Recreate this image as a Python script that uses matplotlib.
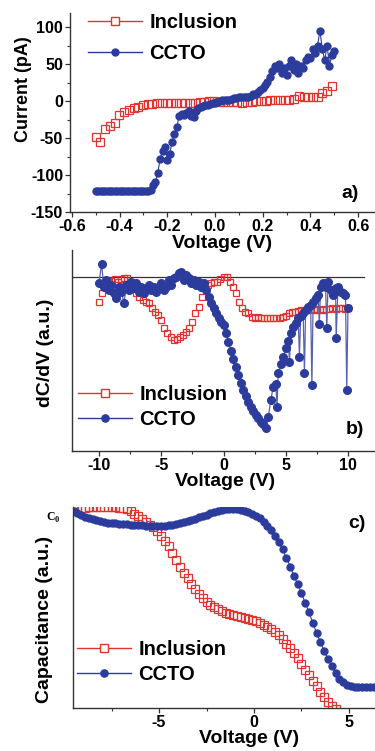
import numpy as np
import matplotlib
matplotlib.use("Agg")
import matplotlib.pyplot as plt
from matplotlib.lines import Line2D
from matplotlib.ticker import MultipleLocator

plt.rcParams["font.family"] = ["Liberation Sans", "DejaVu Sans"]
plt.rcParams["font.weight"] = "bold"
plt.rcParams["axes.unicode_minus"] = False

RED = "#e2342f"
BLUE = "#2c3c9c"
SPIKE = "#5a62ad"

# ---- panel a: I-V ----
inc_iv = [-48, -56, -38, -34, -30, -19, -15, -12, -10, -8,
          -6, -4, -4, -3, -3, -3, -3, -2, -2, -2,
          -2, -2, -1, -1, 0, 0, -1, -1, -1, -1,
          -1, -2, -1, -1, 0, 0, 0, 1, 1, 2,
          2, 2, 3, 7, 5, 5, 5, 6, 11, 14, 20]
ccto_iv = [-122, -122, -122, -122, -122, -122, -122, -122, -122, -122,
           -122, -122, -122, -122, -122, -122, -122, -122, -122, -122,
           -122, -122, -122,
           -120, -113, -110, -97, -78, -68, -62, -80, -72, -55,
           -45, -35, -20, -18, -19, -16, -14, -20, -22, -13,
           -10, -8, -7, -6, -5, -4, -3, -2,
           -1, 0, 1, 1, 2, 2, 3, 4, 4, 5,
           5, 6, 6, 5, 7, 9, 10, 12, 15, 18,
           22, 26, 32, 40, 48, 45, 50, 38, 45, 35,
           48, 55, 42, 50, 38, 48, 45, 55, 60, 58,
           70, 65, 75, 95, 70, 55, 75, 48, 62, 68]
v_inc_iv = np.linspace(-0.5, 0.49, len(inc_iv))
v_ccto_iv = np.linspace(-0.5, 0.5, len(ccto_iv))

# ---- panel b: dC/dV ----
inc_dcdv = [-77, -48, -20, -15, -12, -8, -15, -8, -5, -3,
            -15, -30, -48, -60, -70, -75, -80, -95, -105, -115,
            -130, -155, -170, -182, -190, -188, -182, -175, -165, -155,
            -135, -110, -90, -60, -35, -25, -20, -15, -15, -8,
            0, -2, -15, -30, -50, -75, -95, -105, -110, -120,
            -125, -120, -123, -125, -125, -123, -125, -123, -125, -120,
            -118, -110, -105, -105, -103, -100, -102, -98, -100, -98,
            -100, -98, -100, -96, -98, -95, -96, -95, -95, -96, -95]
ccto_dcdv = [-20, 38, -30, -10, -40, -25, -50, -65, -30, -45,
             -80, -25, -40, -15, -35, -20, -45, -30, -50, -35,
             -25, -40, -30, -45, -35, -20, -40, -30, -10, -25,
             -5, 0, 10, 15, -10, 5, -5, -20, -10, -25,
             -15, -30, -20, -40, -60, -80, -95, -110, -125, -135,
             -145, -170, -195, -222, -247, -270, -295, -320, -340, -358,
             -375, -390, -403, -415, -425, -435, -443, -455, -420, -370,
             -330, -322, -290, -262, -240, -215, -192, -170, -150, -138,
             -125, -117, -108, -100, -92, -85, -75, -65, -55, -30,
             -20, -30, -15, -40, -55, -35, -30, -45, -50, -55, -95]
spike_v = [4.3, 5.3, 6.1, 6.5, 7.1, 7.7, 8.3, 9.05, 9.9]
spike_dcdv = [-390, -255, -240, -290, -325, -142, -155, -184, -340]
v_inc_dcdv = np.linspace(-10, 10, len(inc_dcdv))
v_ccto_dcdv = np.concatenate([np.linspace(-10, 10, len(ccto_dcdv)), spike_v])
ccto_dcdv_all = np.concatenate([ccto_dcdv, spike_dcdv])
order = np.argsort(v_ccto_dcdv, kind="stable")
v_ccto_dcdv, ccto_dcdv_all = v_ccto_dcdv[order], ccto_dcdv_all[order]

# ---- panel c: C-V ----
inc_cv = [599, 600, 601, 602, 603, 603, 604, 604, 604, 604,
          604, 603, 602, 600, 597, 591, 584, 577, 569, 560,
          551, 543, 533, 517, 503, 487, 465, 445, 425, 407,
          390, 373, 357, 343, 330, 320, 311, 303, 296, 291,
          286, 282, 278, 275, 272, 269, 266, 263, 260, 255,
          250, 244, 237, 229, 219, 207, 193, 179, 165, 149,
          132, 115, 98, 81, 65, 49, 33, 19, 7, -3]
ccto_cv = [593, 587, 581, 575, 571, 567, 564, 561, 559, 557,
           556, 555, 554, 553, 552, 551, 550, 549, 549, 548,
           548, 547, 547, 547, 548, 549, 551, 553, 555, 558,
           561, 565, 569, 573, 577, 581, 585, 589, 593, 596,
           598, 599, 599, 598, 596, 593, 589, 584, 578, 570,
           560, 548, 534, 517, 498, 477, 452, 425, 397, 372,
           345, 315, 287, 255, 225, 197, 171, 147, 125, 105,
           88, 77, 70, 66, 64, 63, 63, 62, 62, 62]
v_inc_cv = np.linspace(-9.5, 4.3, len(inc_cv))
v_ccto_cv = np.linspace(-9.5, 6.3, len(ccto_cv))

W, H = 375, 751
fig = plt.figure(figsize=(W / 100, H / 100), dpi=100)


def axes_px(left, top, right, bottom):
    ax = fig.add_axes([left / W, 1 - bottom / H, (right - left) / W, (bottom - top) / H])
    ax.set_facecolor("none")
    return ax


def style(ax):
    for s in ("top", "right"):
        ax.spines[s].set_visible(False)
    for s in ("left", "bottom"):
        ax.spines[s].set_color("#333333")
        ax.spines[s].set_linewidth(1.0)
    ax.tick_params(which="major", direction="out", length=3.5, width=0.9, pad=1.5,
                   labelsize=11.5, colors="#333333", labelcolor="black")
    ax.tick_params(which="minor", direction="out", length=2, width=0.8, colors="#333333")


def legend(ax, anchor, spacing, ms_sq, ms_dot):
    h = [Line2D([], [], color=RED, lw=1, marker="s", ms=ms_sq, mfc="white", mec=RED, mew=1),
         Line2D([], [], color=BLUE, lw=1, marker="o", ms=ms_dot, mfc=BLUE, mec=BLUE)]
    ax.legend(h, ["Inclusion", "CCTO"], loc="upper left", bbox_to_anchor=anchor,
              bbox_transform=fig.transFigure, frameon=False, fontsize=14.5,
              handlelength=2.7, handletextpad=0.35, borderpad=0, borderaxespad=0,
              labelspacing=spacing)


# panel a
ax = axes_px(70, 13, 375, 212)
style(ax)
ax.plot(v_inc_iv, inc_iv, ls="none", marker="s", ms=5.2, mfc="none", mec=RED, mew=0.9)
ax.plot(v_ccto_iv, ccto_iv, color=BLUE, lw=0.8, marker="o", ms=5, mfc=BLUE, mec=BLUE)
ax.set_xlim(-0.608, 0.671)
ax.set_ylim(-150, 119)
ax.xaxis.set_minor_locator(MultipleLocator(0.1))
ax.yaxis.set_major_locator(MultipleLocator(50))
ax.yaxis.set_minor_locator(MultipleLocator(25))
ax.set_xticks([-0.6, -0.4, -0.2, 0.0, 0.2, 0.4, 0.6])
ax.set_xticklabels(["-0.6", "-0.4", "-0.2", "0.0", "0.2", "0.4", "0.6"])
ax.set_xlabel("Voltage (V)", fontsize=14, fontweight="bold")
ax.xaxis.set_label_coords(0.5, -0.16)
ax.xaxis.label.set_va("center")
ax.set_ylabel("Current (pA)", fontsize=13, fontweight="bold")
ax.yaxis.set_label_coords(-0.151, 0.618)
ax.yaxis.label.set_va("center")
legend(ax, (88 / W, 1 - 13 / H), 0.6, 5.2, 5)
fig.text(350 / W, 1 - 193 / H, "a)", fontsize=14, fontweight="bold", ha="center", va="center")

# panel b
ax = axes_px(72, 250, 375, 451)
style(ax)
ax.axhline(0, xmin=0, xmax=0.964, color="#333333", lw=0.9)
ax.plot(v_inc_dcdv, inc_dcdv, ls="none", marker="s", ms=5, mfc="none", mec=RED, mew=0.9)
ax.plot(v_ccto_dcdv, ccto_dcdv_all, color=SPIKE, lw=0.9, marker="o", ms=5.5, mfc=BLUE, mec=BLUE)
ax.set_xlim(-12.17, 12.17)
ax.set_ylim(-523, 80)
ax.set_yticks([])
ax.xaxis.set_major_locator(MultipleLocator(5))
ax.xaxis.set_minor_locator(MultipleLocator(2.5))
ax.set_xlabel("Voltage (V)", fontsize=14, fontweight="bold")
ax.xaxis.set_label_coords(0.505, -0.152)
ax.xaxis.label.set_va("center")
ax.set_ylabel("dC/dV (a.u.)", fontsize=14, fontweight="bold")
ax.yaxis.set_label_coords(-0.089, 0.49)
ax.yaxis.label.set_va("center")
legend(ax, (78 / W, 1 - 385 / H), 0.3, 5.2, 5.2)
fig.text(355 / W, 1 - 430 / H, "b)", fontsize=14, fontweight="bold", ha="center", va="center")

# panel c
ax = axes_px(73, 507, 375, 708)
style(ax)
ax.plot(v_inc_cv, inc_cv, ls="none", marker="s", ms=5.6, mfc="none", mec=RED, mew=0.9)
ax.plot(v_ccto_cv, ccto_cv, color=BLUE, lw=0.8, marker="o", ms=5, mfc=BLUE, mec=BLUE)
ax.set_xlim(-9.53, 6.37)
ax.set_ylim(0, 604)
ax.xaxis.set_major_locator(MultipleLocator(5))
ax.xaxis.set_minor_locator(MultipleLocator(2.5))
ax.set_yticks([578])
ax.set_yticklabels([r"C$_\mathregular{0}$"], fontfamily="Liberation Serif", fontsize=8.5)
ax.tick_params(axis="y", length=0, pad=9)
ax.set_xlabel("Voltage (V)", fontsize=14, fontweight="bold")
ax.xaxis.set_label_coords(0.583, -0.152)
ax.xaxis.label.set_va("center")
ax.set_ylabel("Capacitance (a.u.)", fontsize=14, fontweight="bold")
ax.yaxis.set_label_coords(-0.093, 0.44)
ax.yaxis.label.set_va("center")
legend(ax, (77 / W, 1 - 640 / H), 0.3, 5.6, 5.2)
fig.text(357 / W, 1 - 523 / H, "c)", fontsize=14, fontweight="bold", ha="center", va="center")

fig.savefig("out.png", dpi=100)
